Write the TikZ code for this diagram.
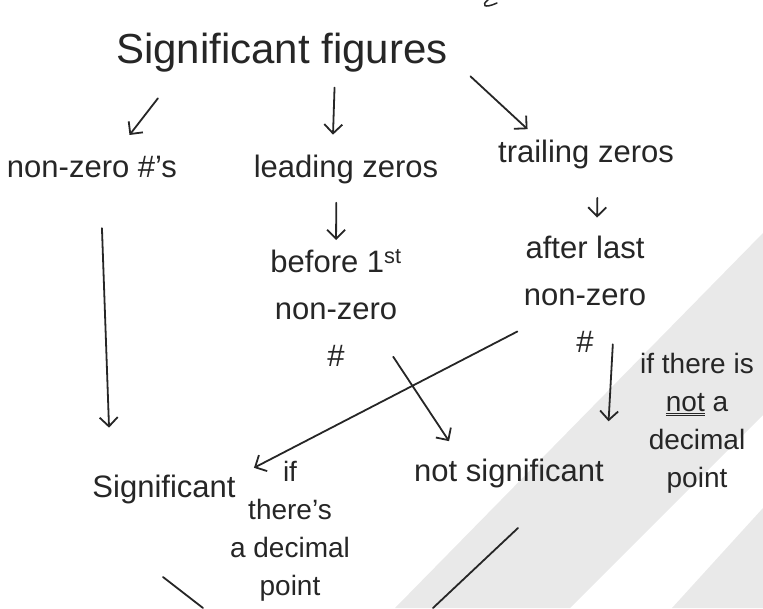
\documentclass[tikz,border=0pt]{standalone}
\usepackage{fontspec}
\setmainfont{Liberation Sans}
\usetikzlibrary{arrows.meta}
\definecolor{ink}{HTML}{262626}
\definecolor{scangray}{HTML}{E9E9E9}

\begin{document}
\begin{tikzpicture}[x=1pt,y=-1pt,>={Straight Barb[length=9pt,width=18pt]},
  line width=1.8pt,ink,text=ink,
  every node/.style={inner sep=2pt},
  head/.style={font=\fontsize{42}{50}\selectfont,anchor=base},
  word/.style={font=\fontsize{31}{47}\selectfont,anchor=base},
  stack/.style={font=\fontsize{31}{47}\selectfont,align=center,anchor=north},
  aside/.style={font=\fontsize{28}{38}\selectfont,align=center,anchor=north},
  arr/.style={->,line cap=round}]
\useasboundingbox (0,0) rectangle (763,608);
% grey bands of the scan
\fill[scangray] (395,608)--(763,233)--(763,415)--(570,608)--cycle;
\fill[scangray] (672,608)--(763,508)--(763,608)--cycle;
\draw[line width=1.5pt,line cap=round] (488,0) .. controls (481,5) and (484,9) .. (497,3);

\node[head] (title) at (282,63) {Significant figures};
\node[word] (nz) at (92,177) {non-zero \#'s};
\node[word] (lz) at (346,177) {leading zeros};
\node[word] (tz) at (586,162) {trailing zeros};
\node[stack] (bf) at (336,247) {before 1\textsuperscript{st}\\non-zero\\\#};
\node[stack] (al) at (585,233) {after last\\non-zero\\\#};
\node[word] (sg) at (164,497) {Significant};
\node[word] (ns) at (509,481) {not significant};
\node[aside] (ifd) at (290,458) {if\\there's\\a decimal\\point};
\node[aside] (ifn) at (697,350) {if there is\\\underline{\underline{not}} a\\decimal\\point};

\draw[arr,shorten <=30pt,shorten >=22.5pt] (title.192) -- (nz.30);
\draw[arr,shorten <=13pt,shorten >=17pt] (title.-23) -- (lz.128);
\draw[arr,shorten <=27pt,shorten >=11pt] (title.-2) -- (tz.161);
\draw[arr,shorten <=16.5pt,shorten >=7pt] (lz.241) -- (bf.north);
\draw[arr,shorten <=26.5pt,shorten >=15.4pt] (tz.-56) -- (al.79);
\draw[arr,shorten <=48pt,shorten >=44pt] (nz.-59) -- (sg.162);
\draw[arr,shorten <=4pt,shorten >=17.5pt] (al.209) -- (sg.10);
\draw[arr,shorten <=-15.7pt,shorten >=17.4pt] (bf.-43) -- (ns.161);
\draw[arr,shorten <=-11pt,shorten >=34.4pt] (al.-66) -- (ns.north east);

% strokes running off the page
\coordinate (sgtail) at (163,577);
\coordinate (sgoff) at (203,608);
\coordinate (nstail) at (518,528);
\coordinate (nsoff) at (433,608);
\draw[line cap=round] (sgtail) -- (sgoff);
\draw[line cap=round] (nstail) -- (nsoff);
\end{tikzpicture}
\end{document}
